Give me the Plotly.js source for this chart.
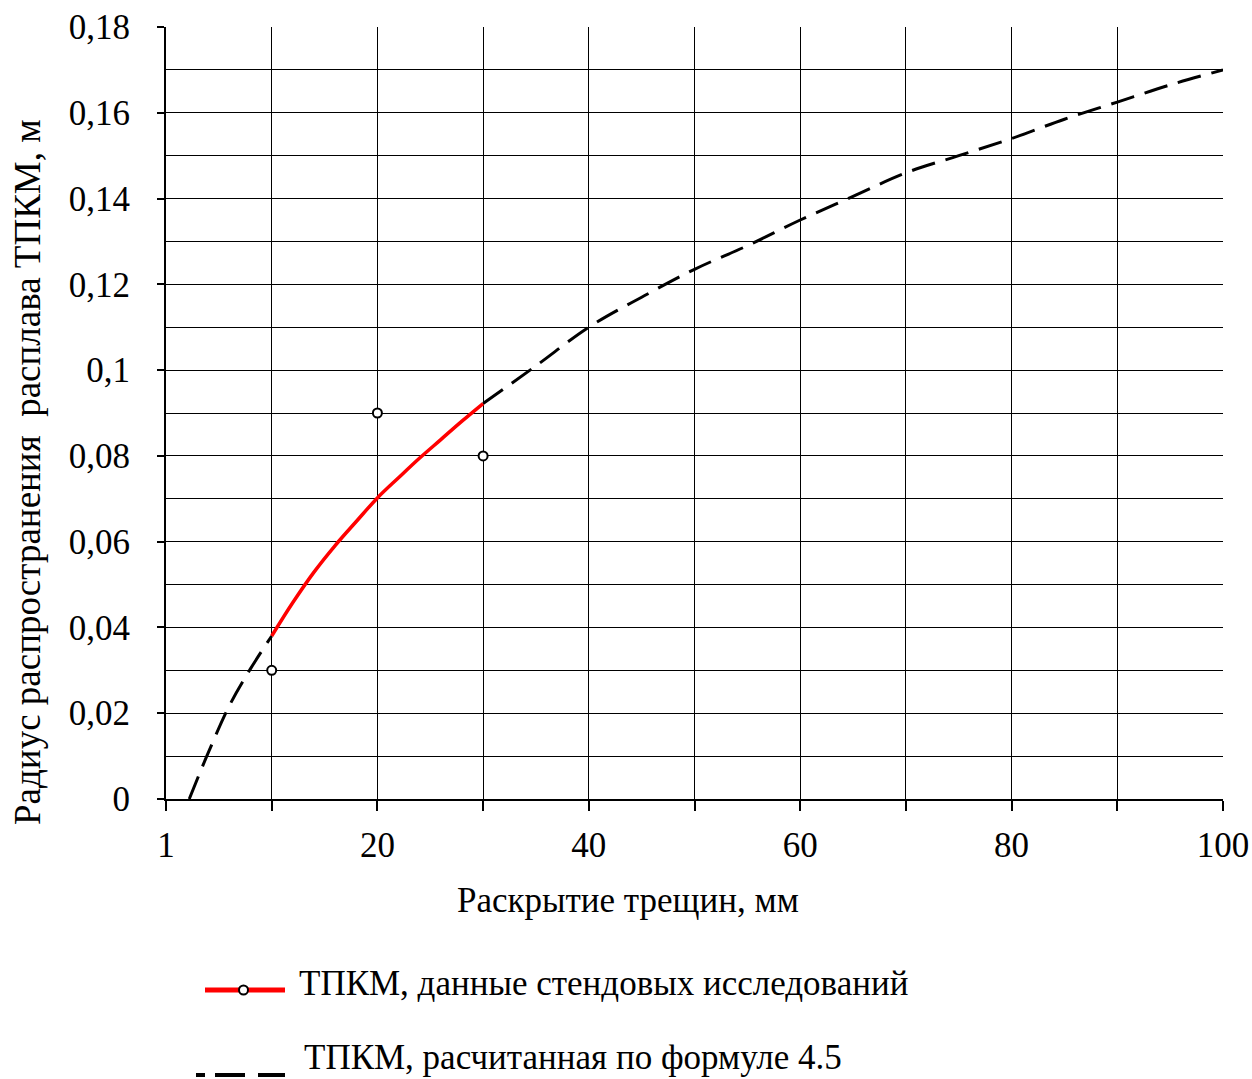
<!DOCTYPE html>
<html>
<head>
<meta charset="utf-8">
<script src="https://cdn.plot.ly/plotly-3.0.1.min.js"></script>
<style>html,body{margin:0;padding:0;background:#fff;}</style>
</head>
<body>
<div id="chart" style="width:1252px;height:1079px;"></div>
<script>
// ---- data (x positions on the equally spaced crack-opening axis) ----
const xTickVals = [0, 10, 20, 30, 40, 50, 60, 70, 80, 90, 100];
const xTickText = ["1", "", "20", "", "40", "", "60", "", "80", "", "100"];
const yTickVals = [0, 0.02, 0.04, 0.06, 0.08, 0.10, 0.12, 0.14, 0.16, 0.18];
const yTickText = ["0", "0,02", "0,04", "0,06", "0,08", "0,1", "0,12", "0,14", "0,16", "0,18"];

// measured points (bench tests)
const benchX = [10, 20, 30];
const benchY = [0.03, 0.09, 0.08];

// fitted curve over bench range (red)
const fitX = [10, 12, 14, 16, 18, 20, 22, 24, 26, 28, 30];
const fitY = [0.038, 0.0458, 0.0529, 0.0591, 0.0647, 0.0702, 0.0749, 0.0795, 0.0838, 0.0881, 0.0922];

// curve calculated by formula 4.5 (black dashed)
const calcX = [2.2, 4, 6, 8, 10, null, 30, 35, 40, 45, 50, 55, 60, 65, 70, 75, 80, 85, 90, 95, 100];
const calcY = [0, 0.0108, 0.0218, 0.0304, 0.038, null, 0.0922, 0.101, 0.110, 0.117, 0.1235, 0.129, 0.135, 0.1405, 0.146, 0.150, 0.154, 0.1585, 0.1625, 0.1665, 0.170];

const legendNames = ["ТПКМ, данные стендовых исследований", "ТПКМ, расчитанная по формуле 4.5"];
const xTitle = "Раскрытие трещин, мм";
const yTitle = "Радиус распространения  расплава ТПКМ, м";

// ---- plot ----
const FONT = 'Liberation Serif, Times New Roman, Times, serif';
const FS = 35;
const L = 166, R = 1223, T = 27, B = 799;
const px = v => (v - L) / (R - L);
const py = v => (B - v) / (B - T);

const traces = [
  {x: calcX, y: calcY, type: 'scatter', mode: 'lines', connectgaps: false,
   line: {color: 'black', width: 3, dash: '24px,11px', shape: 'spline'}, name: legendNames[1], hoverinfo: 'skip'},
  {x: fitX, y: fitY, type: 'scatter', mode: 'lines',
   line: {color: '#ff0000', width: 3.5, shape: 'spline'}, name: legendNames[0], hoverinfo: 'skip'},
  {x: benchX, y: benchY, type: 'scatter', mode: 'markers',
   marker: {symbol: 'circle', size: 9, color: 'white', line: {color: 'black', width: 2}}, name: legendNames[0], hoverinfo: 'skip'}
];

const axisCommon = {
  showline: true, linecolor: 'black', linewidth: 2,
  showgrid: true, gridcolor: 'black', gridwidth: 1,
  zeroline: false, ticks: 'outside', tickcolor: 'black', tickwidth: 2,
  tickfont: {family: FONT, size: FS, color: 'black'}
};

const layout = {
  width: 1252, height: 1079,
  margin: {l: L, r: 1252 - R, t: T, b: 1079 - B},
  paper_bgcolor: 'white', plot_bgcolor: 'white',
  font: {family: FONT, color: 'black', size: FS},
  showlegend: false,
  xaxis: Object.assign({}, axisCommon, {
    range: [0, 100], tickmode: 'array', tickvals: xTickVals, ticktext: xTickText,
    ticklen: 10, ticklabelstandoff: 4
  }),
  yaxis: Object.assign({}, axisCommon, {
    range: [0, 0.18], tickmode: 'array', tickvals: yTickVals, ticktext: yTickText,
    ticklen: 7, ticklabelstandoff: 20,
    minor: {dtick: 0.01, tick0: 0, showgrid: true, gridcolor: 'black', gridwidth: 1, ticks: ''}
  }),
  annotations: [
    {text: xTitle, xref: 'paper', yref: 'paper', x: px(628), y: py(900), xanchor: 'center', yanchor: 'middle',
     showarrow: false, font: {family: FONT, size: FS, color: 'black'}},
    {text: yTitle, xref: 'paper', yref: 'paper', x: px(27), y: py(472), xanchor: 'center', yanchor: 'middle',
     textangle: -90, showarrow: false, font: {family: FONT, size: 37, color: 'black'}},
    {text: legendNames[0], xref: 'paper', yref: 'paper', x: px(297), y: py(983), xanchor: 'left', yanchor: 'middle',
     showarrow: false, font: {family: FONT, size: FS, color: 'black'}},
    {text: legendNames[1], xref: 'paper', yref: 'paper', x: px(302), y: py(1057), xanchor: 'left', yanchor: 'middle',
     showarrow: false, font: {family: FONT, size: FS, color: 'black'}}
  ],
  shapes: [
    {type: 'line', xref: 'paper', yref: 'paper', x0: px(205), x1: px(285), y0: py(990), y1: py(990),
     line: {color: '#ff0000', width: 5}},
    {type: 'circle', xref: 'paper', yref: 'paper', x0: px(239), x1: px(248), y0: py(985.5), y1: py(994.5),
     fillcolor: 'white', line: {color: 'black', width: 2}},
    {type: 'line', xref: 'paper', yref: 'paper', x0: px(196), x1: px(285), y0: py(1075), y1: py(1075),
     line: {color: 'black', width: 4, dash: '9px,10px,30px,13px,27px'}}
  ]
};

Plotly.newPlot('chart', traces, layout, {displayModeBar: false, staticPlot: true});
</script>
</body>
</html>
